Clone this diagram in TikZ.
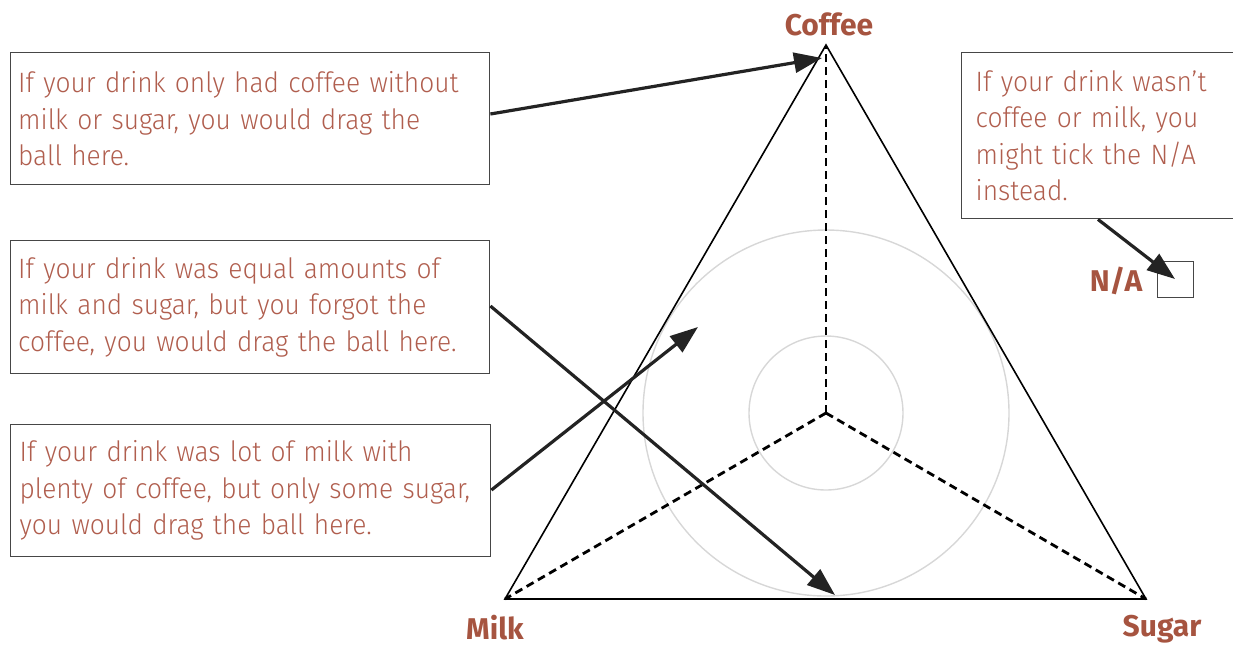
\documentclass[tikz,border=0pt]{standalone}
\usepackage{fontspec}
\setmainfont{Fira Sans}[UprightFont=* Light, BoldFont=* Bold, FakeStretch=0.94]
\newfontfamily\labelfont{Fira Sans}[UprightFont=* Bold]
\usetikzlibrary{arrows.meta}
\definecolor{textbrown}{RGB}{176,94,78}
\definecolor{labelbrown}{RGB}{166,84,64}
\definecolor{boxgray}{RGB}{70,70,70}
\definecolor{ringgray}{RGB}{215,215,215}
\tikzset{
  infobox/.style={draw=boxgray, line width=0.7pt, rectangle, anchor=north west,
    inner xsep=3.5pt, inner ysep=0pt, align=left, text=textbrown,
    font=\fontsize{14}{18.25}\selectfont},
  cornerlabel/.style={text=labelbrown, font=\labelfont\fontsize{15}{17}\selectfont, inner sep=0pt},
  pointer/.style={line width=1.6pt, draw={rgb,255:red,35;green,35;blue,35},
    -{Triangle[length=14pt,width=10pt]}},
  edge/.style={line width=0.8pt},
  axis/.style={line width=1.4pt, dash pattern=on 4pt off 2.5pt},
  ring/.style={draw=ringgray, line width=0.7pt}
}
\begin{document}
\begin{tikzpicture}[x=0.5pt,y=-0.5pt]
  \useasboundingbox (0,0) rectangle (1233,645);

  % triangle corners and centre
  \coordinate (C) at (826,45);
  \coordinate (M) at (505,599);
  \coordinate (S) at (1146,599);
  \coordinate (O) at (826,413);

  % concentric rings
  \draw[ring] (O) circle[radius=77];
  \draw[ring] (O) circle[radius=183];

  % dashed spokes from the centre
  \draw[axis] (O) -- (C);
  \draw[axis] (O) -- (M);
  \draw[axis] (O) -- (S);

  % outer triangle
  \draw[edge, line join=miter] (C) -- (M) -- (S) -- cycle;

  % corner labels
  \node[cornerlabel] (lc) at (829,24) {Coffee};
  \node[cornerlabel] (lm) at (495,628) {Milk};
  \node[cornerlabel] (ls) at (1162,629) {Sugar};
  \node[cornerlabel] (lna) at (1116,281) {N/A};

  % N/A tick box
  \node[draw=boxgray, line width=0.7pt, minimum width=18pt, minimum height=18pt,
        inner sep=0pt] (na) at (1175.5,279.5) {};

  % explanation boxes
  \node[infobox, minimum width=239.5pt, minimum height=66pt, text width=232pt] (b1) at (10,52)
    {If your drink only had coffee without\\milk or sugar, you would drag the\\ball here.};
  \node[infobox, minimum width=239.5pt, minimum height=66.5pt, text width=232pt] (b2) at (10,240)
    {If your drink was equal amounts of\\milk and sugar, but you forgot the\\coffee, you would drag the ball here.};
  \node[infobox, minimum width=239.5pt, minimum height=66pt, text width=231pt, inner xsep=4.5pt] (b3) at (10,424)
    {If your drink was lot of milk with\\plenty of coffee, but only some sugar,\\you would drag the ball here.};
  \node[infobox, minimum width=142pt, minimum height=83pt, text width=128pt, inner xsep=7pt] (b4) at (961,52)
    {If your drink wasn't\\coffee or milk, you\\might tick the N/A\\instead.};

  % pointer targets
  \coordinate (t1) at (822,58);
  \coordinate (t2) at (835,595);
  \coordinate (t3) at (698,327);
  \coordinate (t4) at (1175,279);

  % pointers
  \draw[pointer] (b1.east |- 0,114) -- (t1);
  \draw[pointer] (b2.east |- 0,306) -- (t2);
  \draw[pointer] (b3.east |- 0,490) -- (t3);
  \draw[pointer] (b4.south -| 1098,0) -- (t4);
\end{tikzpicture}
\end{document}
